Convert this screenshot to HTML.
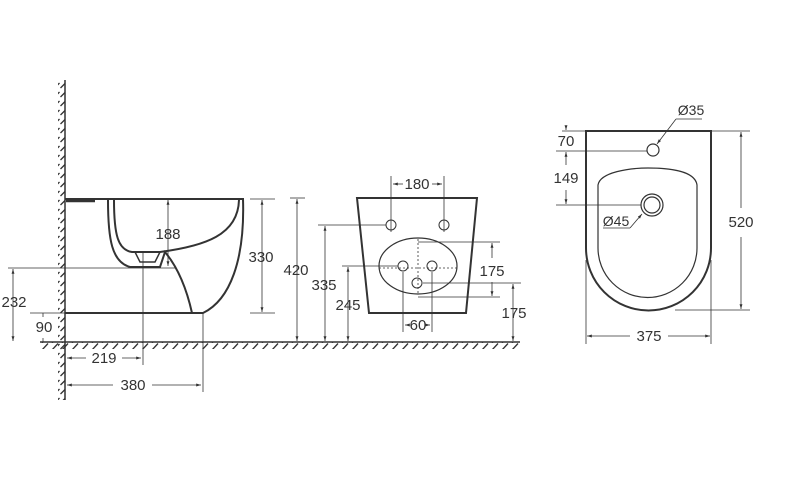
<!DOCTYPE html>
<html><head><meta charset="utf-8"><style>
html,body{margin:0;padding:0;background:#fff;}
svg{display:block;}
text{font-family:"Liberation Sans",sans-serif;font-size:15px;fill:#333;text-anchor:middle;}
</style></head><body>
<svg width="800" height="478" viewBox="0 0 800 478" xmlns="http://www.w3.org/2000/svg">
<defs>
<marker id="a" viewBox="0 0 10 10" refX="10" refY="5" markerWidth="6" markerHeight="6" orient="auto-start-reverse"><path d="M0,2 L10,5 L0,8z" fill="#333"/></marker>
<pattern id="hv" width="6" height="9" patternUnits="userSpaceOnUse"><path d="M0.5,7 L5.5,2" stroke="#333" stroke-width="1.3"/></pattern>
<pattern id="hh" width="10" height="7" patternUnits="userSpaceOnUse"><path d="M2,7 L8,0.5" stroke="#333" stroke-width="1.3"/></pattern>
</defs>
<g stroke="#333" fill="none">
<!-- wall -->
<rect x="58" y="82" width="7" height="318" fill="url(#hv)" stroke="none"/>
<line x1="65" y1="80" x2="65" y2="400" stroke-width="1.5"/>
<!-- floor -->
<rect x="40" y="342" width="480" height="7" fill="url(#hh)" stroke="none"/>
<line x1="40" y1="342" x2="520" y2="342" stroke-width="1.5"/>

<!-- side view -->
<g stroke-width="2">
<path d="M65,199 L243,199 C245,260 230,300 203,313 L65,313"/>
<path d="M108,200 C108,240 112,262 130,267 L160,267 L165,252 C180,270 188,295 192,313"/>
<path d="M114,200 C114,235 118,250 132,252 L160,252 C205,246 238,235 239,200"/>
<path d="M135,252 L140,262 L155,262 L160,252" stroke-width="1.5"/>
<line x1="66" y1="201" x2="95" y2="201" stroke-width="2.5"/>
</g>
<g stroke-width="0.8">
<line x1="168" y1="200" x2="168" y2="266" marker-start="url(#a)" marker-end="url(#a)"/>
<line x1="8" y1="268" x2="175" y2="268"/>
<line x1="250" y1="199" x2="275" y2="199"/><line x1="250" y1="313" x2="275" y2="313"/>
<line x1="262" y1="200" x2="262" y2="312" marker-start="url(#a)" marker-end="url(#a)"/>
<line x1="290" y1="198" x2="305" y2="198"/>
<line x1="297" y1="199" x2="297" y2="341" marker-start="url(#a)" marker-end="url(#a)"/>
<line x1="13" y1="269" x2="13" y2="341" marker-start="url(#a)" marker-end="url(#a)"/>
<line x1="30" y1="313" x2="65" y2="313"/>
<line x1="43" y1="313" x2="43" y2="317" /><line x1="43" y1="338" x2="43" y2="342"/>
<line x1="143" y1="252" x2="143" y2="365"/>
<line x1="203" y1="313" x2="203" y2="392"/>
<line x1="65" y1="342" x2="65" y2="392"/>
<line x1="67" y1="358" x2="86" y2="358" marker-start="url(#a)"/><line x1="122" y1="358" x2="141" y2="358" marker-end="url(#a)"/>
<line x1="67" y1="385" x2="113" y2="385" marker-start="url(#a)"/><line x1="152" y1="385" x2="201" y2="385" marker-end="url(#a)"/>
</g>

<!-- front view -->
<path d="M357,198 L477,198 L466,313 L369,313 Z" stroke-width="2"/>
<ellipse cx="418" cy="266" rx="39" ry="28" stroke-width="1.2"/>
<g stroke-width="1">
<circle cx="391" cy="225" r="5"/><circle cx="444" cy="225" r="5"/>
<circle cx="403" cy="266" r="5"/><circle cx="432" cy="266" r="5"/><circle cx="417" cy="283" r="5"/>
</g>
<g stroke-width="0.8" stroke-dasharray="2,2">
<line x1="418" y1="239" x2="418" y2="293"/><line x1="379" y1="268" x2="457" y2="268"/>
</g>
<g stroke-width="0.8">
<line x1="391" y1="176" x2="391" y2="232"/><line x1="444" y1="176" x2="444" y2="232"/>
<line x1="393" y1="184" x2="403" y2="184" marker-start="url(#a)"/><line x1="432" y1="184" x2="442" y2="184" marker-end="url(#a)"/>
<line x1="318" y1="225" x2="386" y2="225"/>
<line x1="325" y1="226" x2="325" y2="341" marker-start="url(#a)" marker-end="url(#a)"/>
<line x1="342" y1="266" x2="398" y2="266"/>
<line x1="348" y1="267" x2="348" y2="341" marker-start="url(#a)" marker-end="url(#a)"/>
<line x1="418" y1="242" x2="500" y2="242"/><line x1="418" y1="297" x2="500" y2="297"/>
<line x1="492" y1="243" x2="492" y2="258" marker-start="url(#a)"/><line x1="492" y1="282" x2="492" y2="296" marker-end="url(#a)"/>
<line x1="403" y1="272" x2="403" y2="332"/><line x1="432" y1="272" x2="432" y2="332"/>
<line x1="405" y1="325" x2="407" y2="325" marker-start="url(#a)"/><line x1="428" y1="325" x2="430" y2="325" marker-end="url(#a)"/>
<line x1="423" y1="283" x2="521" y2="283"/>
<line x1="513" y1="284" x2="513" y2="341" marker-start="url(#a)" marker-end="url(#a)"/>
</g>

<!-- top view -->
<path d="M586,131 L711,131 L711,248 A62.5,62.5 0 0 1 586,248 Z" stroke-width="2"/>
<path d="M598,185 C600,172 630,168 648,168 C666,168 695,170 697,185 L697,248 A49.5,49.5 0 0 1 598,248 Z" stroke-width="1.2"/>
<circle cx="653" cy="150" r="6" stroke-width="1.2"/>
<circle cx="652" cy="205" r="11" stroke-width="1.2"/><circle cx="652" cy="205" r="8" stroke-width="1.2"/>
<g stroke-width="0.8">
<line x1="562" y1="131" x2="586" y2="131"/><line x1="566" y1="127" x2="566" y2="130" marker-end="url(#a)"/>
<line x1="556" y1="151" x2="647" y2="151"/>
<line x1="566" y1="152" x2="566" y2="165" marker-start="url(#a)"/><line x1="566" y1="190" x2="566" y2="204" marker-end="url(#a)"/>
<line x1="556" y1="205" x2="641" y2="205"/>
<line x1="702" y1="119" x2="676" y2="119"/><line x1="676" y1="119" x2="657" y2="144" marker-end="url(#a)"/>
<line x1="603" y1="228" x2="630" y2="228"/><line x1="630" y1="228" x2="642" y2="214" marker-end="url(#a)"/>
<line x1="711" y1="131" x2="750" y2="131"/><line x1="675" y1="310" x2="750" y2="310"/>
<line x1="741" y1="132" x2="741" y2="208" marker-start="url(#a)"/><line x1="741" y1="237" x2="741" y2="309" marker-end="url(#a)"/>
<line x1="586" y1="260" x2="586" y2="344"/><line x1="711" y1="260" x2="711" y2="344"/>
<line x1="587" y1="336" x2="630" y2="336" marker-start="url(#a)"/><line x1="668" y1="336" x2="710" y2="336" marker-end="url(#a)"/>
</g>
</g>
<text x="168" y="239">188</text>
<text x="261" y="262">330</text>
<text x="296" y="275">420</text>
<text x="14" y="307">232</text>
<text x="44" y="332">90</text>
<text x="104" y="363">219</text>
<text x="133" y="390">380</text>
<text x="417" y="189">180</text>
<text x="324" y="290">335</text>
<text x="348" y="310">245</text>
<text x="492" y="276">175</text>
<text x="514" y="318">175</text>
<text x="418" y="330">60</text>
<text x="566" y="146">70</text>
<text x="566" y="183">149</text>
<text x="691" y="115" style="font-size:14px">Ø35</text>
<text x="616" y="226" style="font-size:14px">Ø45</text>
<text x="741" y="227">520</text>
<text x="649" y="341">375</text>
</svg>
</body></html>
